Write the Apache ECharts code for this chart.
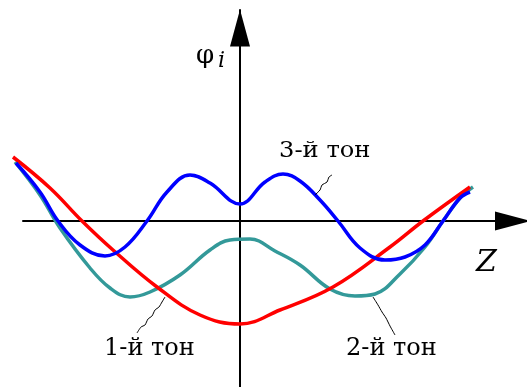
<!DOCTYPE html>
<html>
<head>
<meta charset="utf-8">
<script src="https://cdn.jsdelivr.net/npm/echarts@6/dist/echarts.min.js"></script>
<style>
html,body{margin:0;padding:0;background:#fff;}
#chart{width:527px;height:387px;}
</style>
</head>
<body>
<div id="chart"></div>
<script>
// Mode shapes φi(z): [z, φ] pairs (arbitrary units, origin at axes crossing)
var tone1 = [[-227,64],[-190,33],[-158,0],[-127,-29],[-83,-66],[-40,-94],[0,-103],[40,-89],[93,-66],[150,-26],[183,0],[230,34]];
var tone2 = [[-225,59],[-200,26],[-180,-7],[-150,-47],[-130,-67],[-110,-76],[-90,-71],[-60,-54],[-30,-29],[-10,-19],[10,-18],[35,-30],[60,-44],[90,-68],[115,-75],[135,-73],[160,-53],[185,-26],[203,0],[220,23],[233,34]];
var tone3 = [[-224,58],[-200,29],[-182,0],[-160,-24],[-135,-35],[-115,-26],[-93,0],[-73,29],[-50,46],[-30,38],[0,17],[25,39],[43,47],[60,40],[80,21],[98,0],[120,-27],[145,-39],[165,-36],[185,-24],[203,0],[220,23],[230,29]];
var seriesNames = ['1-й тон', '2-й тон', '3-й тон'];
var axisNames = ['Z', 'φ', 'i'];

var chart = echarts.init(document.getElementById('chart'), null, {renderer: 'canvas'});
var serif = '"DejaVu Serif", "Liberation Serif", serif';

function leader(points) {
  return {type: 'polyline', shape: {points: points, smooth: 0.2}, style: {stroke: '#000', lineWidth: 1, fill: null}, z: 10};
}
var hidden = {axisTick: {show: false}, axisLabel: {show: false}, splitLine: {show: false}};

chart.setOption({
  animation: false,
  backgroundColor: '#ffffff',
  grid: [
    {left: 0, right: 0, top: 10, bottom: 0, containLabel: false},
    {left: 23, right: 0, top: 10, bottom: 0, containLabel: false}
  ],
  xAxis: [
    Object.assign({type: 'value', gridIndex: 0, min: -240, max: 287, axisLine: {show: false}}, hidden),
    Object.assign({type: 'value', gridIndex: 1, min: -217, max: 287,
      axisLine: {show: true, onZero: true, lineStyle: {color: '#000', width: 2},
        symbol: ['none', 'triangle'], symbolSize: [19, 36], symbolOffset: [0, -14]}}, hidden)
  ],
  yAxis: [
    Object.assign({type: 'value', gridIndex: 0, min: -166, max: 211,
      axisLine: {show: true, onZero: true, lineStyle: {color: '#000', width: 2},
        symbol: ['none', 'triangle'], symbolSize: [20, 37], symbolOffset: [0, -18]}}, hidden),
    Object.assign({type: 'value', gridIndex: 1, min: -166, max: 211, axisLine: {show: false}}, hidden)
  ],
  series: [
    {name: seriesNames[1], type: 'line', xAxisIndex: 0, yAxisIndex: 0, data: tone2, smooth: 0.4, symbol: 'none', lineStyle: {color: '#339999', width: 3.5}, z: 3},
    {name: seriesNames[0], type: 'line', xAxisIndex: 0, yAxisIndex: 0, data: tone1, smooth: 0.4, symbol: 'none', lineStyle: {color: '#ff0000', width: 3.5}, z: 3},
    {name: seriesNames[2], type: 'line', xAxisIndex: 0, yAxisIndex: 0, data: tone3, smooth: 0.4, symbol: 'none', lineStyle: {color: '#0000ff', width: 3.5}, z: 3}
  ],
  graphic: [
    {type: 'text', left: 196, top: 43, style: {text: axisNames[1], font: '26px ' + serif, fill: '#000'}},
    {type: 'text', left: 218, top: 50, style: {text: axisNames[2], font: 'italic 22px ' + serif, fill: '#000'}},
    {type: 'text', left: 476, top: 248, style: {text: axisNames[0], font: 'italic 30px ' + serif, fill: '#000'}},
    {type: 'text', left: 279, top: 140, scaleX: 1.1, style: {text: seriesNames[2], font: '22px ' + serif, fill: '#000'}},
    {type: 'text', left: 104, top: 337, style: {text: seriesNames[0], font: '24px ' + serif, fill: '#000'}},
    {type: 'text', left: 346, top: 337, style: {text: seriesNames[1], font: '24px ' + serif, fill: '#000'}},
    leader([[137,333],[141,327],[145,325],[148,319],[152,316],[155,310],[159,307],[162,302],[165,297]]),
    leader([[373,297],[378,305],[382,312],[386,318],[390,326],[395,335]]),
    leader([[315,195],[320,190],[322,185],[327,182],[329,177],[332,175]])
  ]
});
</script>
</body>
</html>
